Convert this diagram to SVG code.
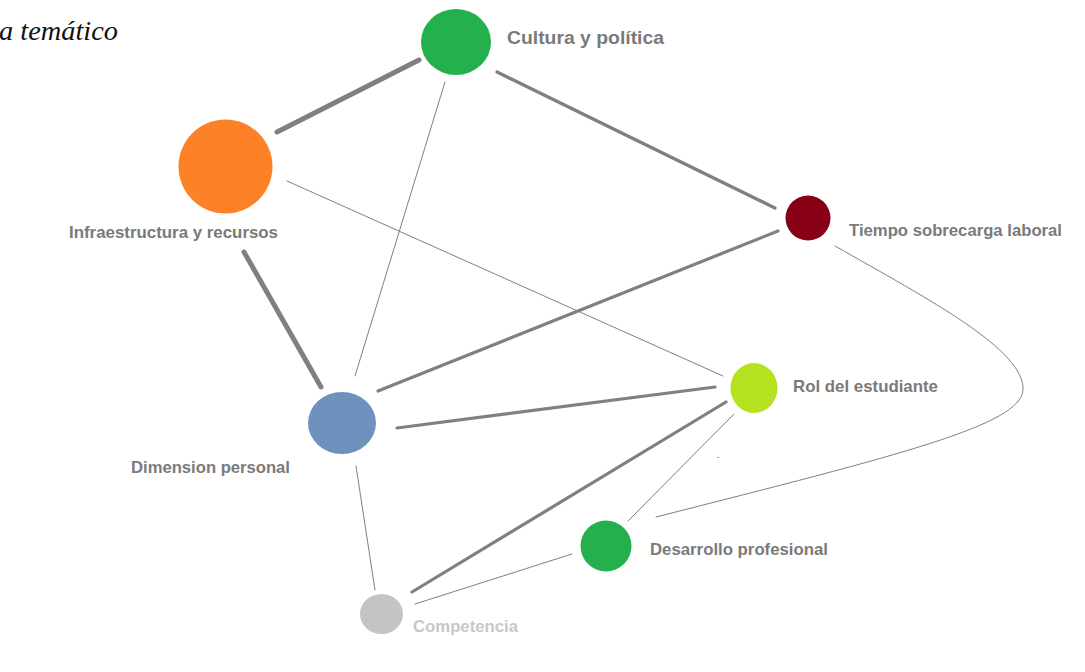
<svg xmlns="http://www.w3.org/2000/svg" width="1085" height="672" viewBox="0 0 1085 672">
<style>
.e{stroke:#808080;fill:none;stroke-linecap:round}
.t1{stroke-width:1}
.t3{stroke-width:3.2}
.t5{stroke-width:5}
.lb{font-family:"Liberation Sans",Arial,sans-serif;font-weight:bold;font-size:17px;fill:#7a7a7a}
</style>
<rect width="1085" height="672" fill="#ffffff"/>
<text x="-1" y="40" font-family="Liberation Serif,'Times New Roman',serif" font-style="italic" font-size="27" fill="#111" textLength="119" lengthAdjust="spacingAndGlyphs">a temático</text>
<g id="connectors">
<line class="e t5" x1="277" y1="132" x2="419" y2="60"/>
<line class="e t3" x1="497" y1="72" x2="775" y2="208"/>
<line class="e t1" x1="445" y1="82" x2="355" y2="376"/>
<line class="e t1" x1="287" y1="181" x2="723" y2="376"/>
<line class="e t5" x1="244" y1="252" x2="321" y2="387"/>
<line class="e t3" x1="778" y1="231" x2="378" y2="391"/>
<path class="e t1" d="M835 246 C 930 300, 1025 350, 1023 390 C 1021 425, 900 455, 656 517"/>
<line class="e t3" x1="397" y1="428" x2="715" y2="387"/>
<line class="e t3" x1="726" y1="402" x2="412" y2="592"/>
<line class="e t1" x1="734" y1="414" x2="628" y2="521"/>
<line class="e t1" x1="717.5" y1="457.5" x2="718.5" y2="457.5"/>
<line class="e t1" x1="356" y1="466" x2="375" y2="590"/>
<line class="e t1" x1="415" y1="604" x2="572" y2="554"/>
</g>
<g id="cultura"><ellipse cx="456" cy="42" rx="35" ry="33" fill="#25b04e"/><text class="lb" x="507" y="44" style="font-size:18px" textLength="157" lengthAdjust="spacingAndGlyphs">Cultura y política</text></g>
<g id="infraestructura"><circle cx="225.5" cy="166.5" r="47" fill="#fd8127"/><text class="lb" x="69" y="238" textLength="209" lengthAdjust="spacingAndGlyphs">Infraestructura y recursos</text></g>
<g id="tiempo"><circle cx="808" cy="218" r="22.5" fill="#870016"/><text class="lb" x="849" y="236" textLength="213" lengthAdjust="spacingAndGlyphs">Tiempo sobrecarga laboral</text></g>
<g id="rol"><ellipse cx="754" cy="388" rx="23.5" ry="25" fill="#b5e21e"/><text class="lb" x="793" y="392" textLength="145" lengthAdjust="spacingAndGlyphs">Rol del estudiante</text></g>
<g id="dimension"><ellipse cx="342" cy="423" rx="34" ry="31" fill="#6f91bd"/><text class="lb" x="131" y="473" textLength="159" lengthAdjust="spacingAndGlyphs">Dimension personal</text></g>
<g id="desarrollo"><circle cx="606" cy="546" r="25.5" fill="#25b04e"/><text class="lb" x="650" y="555" textLength="178" lengthAdjust="spacingAndGlyphs">Desarrollo profesional</text></g>
<g id="competencia"><ellipse cx="381.5" cy="614" rx="21.5" ry="20" fill="#c4c4c4"/><text class="lb" x="413" y="632" style="fill:#c8c8c8" textLength="105" lengthAdjust="spacingAndGlyphs">Competencia</text></g>
</svg>
